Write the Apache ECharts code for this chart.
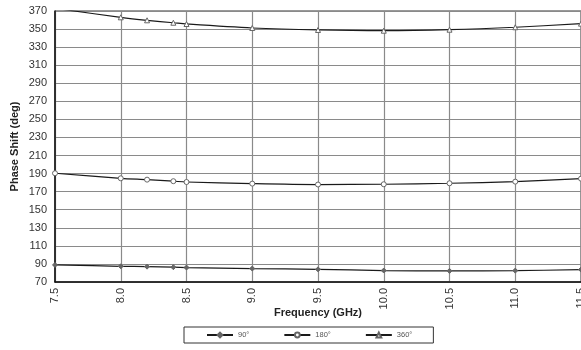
<!DOCTYPE html>
<html>
<head>
<meta charset="utf-8">
<script src="https://cdn.jsdelivr.net/npm/echarts@6/dist/echarts.min.js"></script>
<style>
  html, body { margin: 0; padding: 0; background: #fff; }
  #chart { width: 581px; height: 350px; }
</style>
</head>
<body>
<div id="chart"></div>
<script>
// frequency points (GHz)
const freq = [7.5, 8.0, 8.2, 8.4, 8.5, 9.0, 9.5, 10.0, 10.5, 11.0, 11.5];
// phase shift (deg) per bit
const phase90 = [88.9, 87.4, 87.0, 86.4, 86.0, 84.9, 84.0, 82.7, 82.3, 82.6, 83.7];
const phase180 = [190.4, 184.8, 183.3, 181.6, 180.7, 178.9, 177.9, 178.2, 179.3, 181.1, 184.4];
const phase360 = [373.0, 363.0, 359.7, 357.0, 355.6, 351.2, 349.0, 348.2, 349.3, 352.0, 356.0];
const yTicks = [70, 90, 110, 130, 150, 170, 190, 210, 230, 250, 270, 290, 310, 330, 350, 370];

const pairs = (ys) => freq.map((f, i) => [f, ys[i]]);

const chart = echarts.init(document.getElementById("chart"));

const lineSeries = (name, data, symbol, fill) => ({
  name: name,
  type: "line",
  data: data,
  smooth: 0.3,
  symbol: symbol,
  symbolSize: 5,
  showSymbol: true,
  clip: true,
  lineStyle: { color: "#1a1a1a", width: 1.2 },
  itemStyle: { color: fill, borderColor: "#666", borderWidth: 1 },
  emphasis: { disabled: true },
});

chart.setOption({
  animation: false,
  textStyle: { fontFamily: "Liberation Sans, Arial, sans-serif" },
  grid: {
    left: 55,
    right: 0,
    top: 11,
    bottom: 68,
    containLabel: false,
    outerBoundsMode: "none",
    show: true,
    borderColor: "#333",
    borderWidth: 1,
  },
  legend: {
    bottom: 7,
    left: 184,
    itemWidth: 26,
    itemHeight: 6,
    itemGap: 34,
    padding: [4, 21, 4, 22],
    borderColor: "#333",
    borderWidth: 1,
    textStyle: { fontSize: 7.5, color: "#555" },
    data: ["90°", "180°", "360°"],
  },
  xAxis: {
    type: "value",
    min: 7.5,
    max: 11.5,
    interval: 0.5,
    name: "Frequency (GHz)",
    nameLocation: "middle",
    nameGap: 25,
    nameMoveOverlap: false,
    nameTextStyle: { fontWeight: "bold", fontSize: 11, color: "#222" },
    axisLine: { lineStyle: { color: "#111", width: 1.5 } },
    axisTick: { show: false },
    axisLabel: {
      rotate: 90,
      fontSize: 11,
      color: "#333",
      margin: 6,
      formatter: (v) => v.toFixed(1),
    },
    splitLine: { lineStyle: { color: "#8a8a8a", width: 1.2 } },
  },
  yAxis: {
    type: "value",
    min: 70,
    max: 370,
    name: "Phase Shift (deg)",
    nameLocation: "middle",
    nameGap: 35,
    nameMoveOverlap: false,
    nameTextStyle: { fontWeight: "bold", fontSize: 11, color: "#222" },
    axisLine: { show: true, lineStyle: { color: "#111", width: 1.5 } },
    axisTick: { show: false, customValues: yTicks },
    axisLabel: { fontSize: 11, color: "#333", margin: 8, customValues: yTicks },
    splitLine: { lineStyle: { color: "#8a8a8a", width: 1.2 } },
  },
  series: [
    lineSeries("90°", pairs(phase90), "diamond", "#666"),
    lineSeries("180°", pairs(phase180), "circle", "#fff"),
    lineSeries("360°", pairs(phase360), "triangle", "#fff"),
  ],
});
</script>
</body>
</html>
